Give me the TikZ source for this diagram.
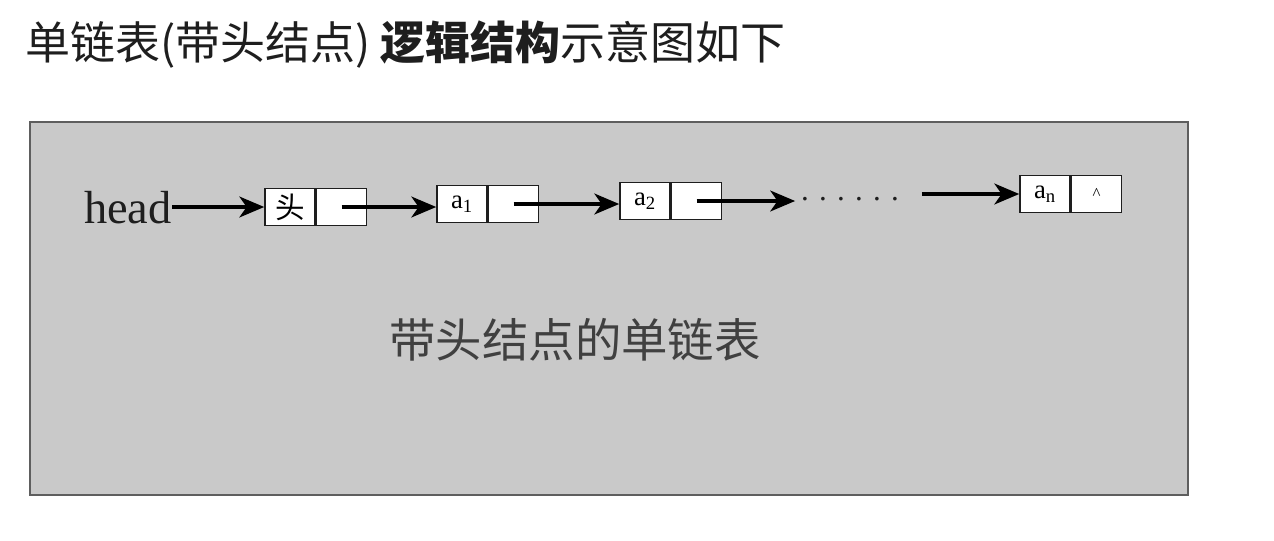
\documentclass[tikz,border=0pt]{standalone}
\usepackage{fontspec}
\setmainfont{Liberation Serif}
\newfontfamily\cjk{Noto Sans CJK SC}
\usetikzlibrary{arrows.meta,positioning}
\definecolor{panel}{HTML}{C9C9C9}
\definecolor{frame}{HTML}{5E5E5E}
\definecolor{ink}{HTML}{1E1E1E}

\begin{document}
\begin{tikzpicture}[x=0.025cm,y=-0.025cm,cell/.style={draw=ink,fill=white,line width=1.1pt,minimum width=1.25cm,minimum height=0.92cm,inner sep=0pt,font=\fontsize{19}{19}\selectfont},arrow/.style={-{Stealth[length=0.62cm,width=0.52cm,inset=0.18cm]},line width=2.5pt,black},label/.style={text=ink,inner sep=0pt}]
 \useasboundingbox[fill=white] (0,0) rectangle (1274,540);
 \node[label,anchor=west,font=\cjk\fontsize{32}{32}\selectfont] (title) at (25,45) {单链表(带头结点) \textbf{逻辑结构}示意图如下};
 \draw[frame,fill=panel,line width=1.5pt] (30,122) rectangle (1188,495);
 % list nodes
 \node[label,anchor=east,font=\fontsize{33}{33}\selectfont] (head) at (172,208) {head};
 \node[cell,font=\cjk\fontsize{21}{21}\selectfont] (hd) at (290,207) {头};
 \node[cell,right=0pt of hd] (hdp) {};
 \node[cell] (a1) at (462,204) {a\textsubscript{1}};
 \node[cell,right=0pt of a1] (a1p) {};
 \node[cell] (a2) at (645,201) {a\textsubscript{2}};
 \node[cell,right=0pt of a2] (a2p) {};
 \node[label,font=\fontsize{22}{22}\selectfont] (dots) at (850,199) {. . . . . .};
 \node[cell] (an) at (1045,194) {a\textsubscript{n}};
 \node[cell,right=0pt of an,font=\fontsize{12}{12}\selectfont] (anp) {\textasciicircum};
 \draw[arrow] (head.east |- hd.west) -- (hd.west);
 \draw[arrow] (hdp.center) -- (hdp.center -| a1.west);
 \draw[arrow] (a1p.center) -- (a1p.center -| a2.west);
 \draw[arrow] (a2p.center) -- ([xshift=-4pt]a2p.center -| dots.west);
 \draw[arrow] ([xshift=16pt]dots.east |- an.west) -- (an.west);
 \node[label,font=\cjk\fontsize{33}{33}\selectfont,text=ink!85] (caption) at (575,340) {带头结点的单链表};
\end{tikzpicture}
\end{document}
